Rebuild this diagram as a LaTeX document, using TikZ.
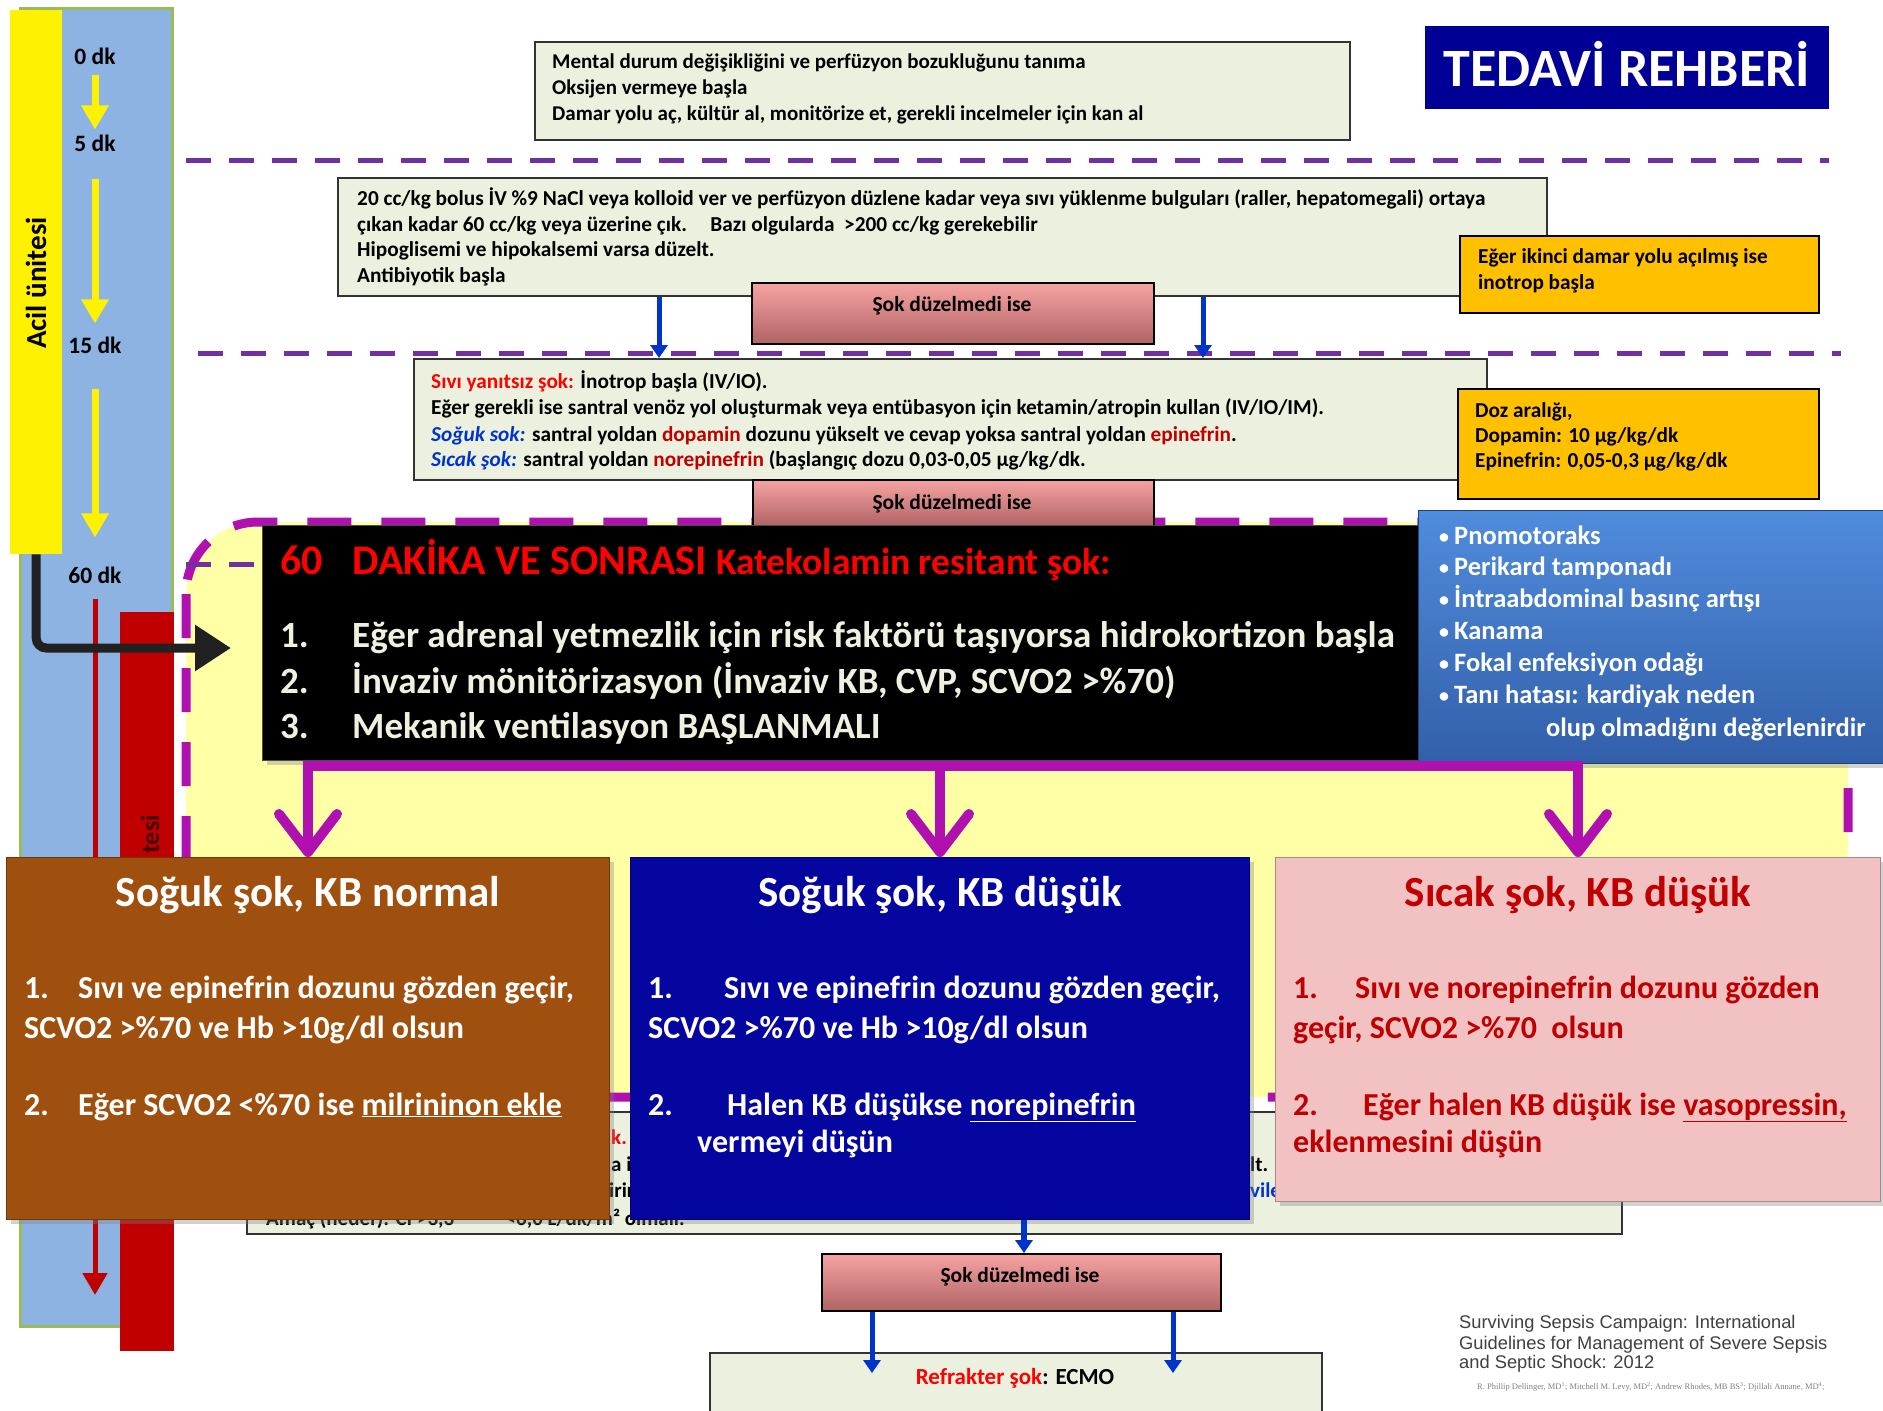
\documentclass[tikz,border=0pt]{standalone}
\usepackage{fontspec}
\setmainfont{Carlito}
\newfontfamily\citefont{Liberation Sans}
\newfontfamily\authfont{Liberation Serif}
\usetikzlibrary{arrows.meta,shadows,calc}
\newcommand{\fz}[1]{\fontsize{#1}{#1}\selectfont\bfseries}
\newcommand{\bul}{\makebox[15pt][l]{\raisebox{1pt}{\scalebox{0.75}{•}}}}
\definecolor{boxgreen}{RGB}{235,241,222}
\definecolor{purp}{RGB}{112,48,160}
\definecolor{mag}{RGB}{176,16,176}
\definecolor{lyel}{RGB}{255,255,166}
\definecolor{barblue}{RGB}{141,179,226}
\definecolor{olivec}{RGB}{155,187,89}
\definecolor{darkred}{RGB}{192,0,0}
\definecolor{gold}{RGB}{255,192,0}
\definecolor{navytd}{RGB}{0,0,150}
\definecolor{boxblue}{RGB}{5,5,160}
\definecolor{brownbox}{RGB}{160,80,14}
\definecolor{pinkbox}{RGB}{242,194,194}
\definecolor{arrblue}{RGB}{0,51,204}
\definecolor{pinktop}{RGB}{246,162,162}
\definecolor{pinkbot}{RGB}{176,100,100}
\definecolor{bultop}{RGB}{80,140,220}
\definecolor{bulbot}{RGB}{50,95,170}
\definecolor{cream}{RGB}{240,240,225}
\definecolor{redtxt}{RGB}{255,0,0}
\definecolor{citegray}{RGB}{64,64,64}
\begin{document}
\begin{tikzpicture}[x=1pt,y=-1pt,
  tx/.style={inner sep=0, anchor=base west},
  txc/.style={inner sep=0, anchor=base},
  gbox/.style={draw=black!80, line width=1.6, fill=boxgreen, inner sep=0, anchor=north west},
  ybox/.style={draw=black, line width=2, fill=gold, inner sep=0, anchor=north west},
  pbox/.style={draw=black, line width=2, top color=pinktop, bottom color=pinkbot, inner sep=0, anchor=north west},
  purpdash/.style={draw=purp, line width=5, dash pattern=on 25pt off 18pt},
  bluearr/.style={draw=arrblue, line width=5, -{Triangle[length=13pt,width=17pt]}},
  yarr/.style={draw=yellow, line width=7, -{Triangle[length=24pt,width=26pt]}},
  redarr/.style={draw=darkred, line width=5, -{Triangle[length=22pt,width=24pt]}},
  magarr/.style={draw=mag, line width=10, -{Straight Barb[length=38pt,width=58pt,round]}},
  magline/.style={draw=mag, line width=10, line cap=rect},
  bigbox/.style={inner sep=0, anchor=north west, drop shadow={shadow xshift=4pt, shadow yshift=-4pt, opacity=0.35}},
]
\useasboundingbox (0,0) rectangle (1883,1411);
\fill[white] (0,0) rectangle (1883,1411);

% left time bar
\node[draw=olivec, line width=2.5, fill=barblue, inner sep=0, anchor=north west, minimum width=152, minimum height=1318] (bbar) at (19,7) {};
\node[fill=yellow, inner sep=0, anchor=north west, minimum width=52, minimum height=544] (ybar) at (10,10) {};
\node[rotate=90, inner sep=0, font=\fz{29}] (acil) at (36,283) {Acil ünitesi};
\node[inner sep=0, font=\fz{23.5}] (l0) at (95,56) {0 dk};
\node[inner sep=0, font=\fz{23.5}] (l5) at (95,143) {5 dk};
\node[inner sep=0, font=\fz{23.5}] (l15) at (95,345) {15 dk};
\node[inner sep=0, font=\fz{23.5}] (l60) at (95,575) {60 dk};
\draw[yarr, shorten <=10pt, shorten >=5pt] (l0.south) -- (l5.north);
\draw[yarr, shorten <=27pt, shorten >=13pt] (l5.south) -- (l15.north);
\draw[yarr, shorten <=35pt, shorten >=29pt] (l15.south) -- (l60.north);
\node[fill=darkred, inner sep=0, anchor=north west, minimum width=54, minimum height=739] (rbar) at (120,612) {};
\coordinate (redend) at (95,1295);
\draw[redarr, shorten <=15pt] (l60.south) -- (redend);
\node[rotate=90, inner sep=0, anchor=east, font=\fz{26}, text={rgb,255:red,70;green,0;blue,0}] (tesi) at (150,815) {tesi};

% dashed time lines
\draw[purpdash] (186,160) -- (1829,160);
\draw[purpdash] (198,353) -- (1841,353);

% step 1
\node[gbox, minimum width=815, minimum height=98] (b1) at (534,41) {};
\node[tx, font=\fz{21}] (t1a) at (552,68) {Mental durum değişikliğini ve perfüzyon bozukluğunu tanıma};
\node[tx, font=\fz{21}] (t1b) at (552,94) {Oksijen vermeye başla};
\node[tx, font=\fz{21}] (t1c) at (552,120) {Damar yolu aç, kültür al, monitörize et, gerekli incelmeler için kan al};

\node[fill=navytd, inner sep=0, anchor=north west, minimum width=404, minimum height=83] (ted) at (1425,26) {};
\node[txc, font=\fz{54}, text=white] (tedt) at (1627,86) {TEDAVİ REHBERİ};

% step 2
\node[gbox, minimum width=1209, minimum height=118] (b2) at (337,177) {};
\node[tx, font=\fz{21.3}] (t2a) at (357,205) {20 cc/kg bolus İV \%9 NaCl veya kolloid ver ve perfüzyon düzlene kadar veya sıvı yüklenme bulguları (raller, hepatomegali) ortaya};
\node[tx, font=\fz{21.3}] (t2b) at (357,231) {çıkan kadar 60 cc/kg veya üzerine çık.\hspace{1.1em}Bazı olgularda~ >200 cc/kg gerekebilir};
\node[tx, font=\fz{21.3}] (t2c) at (357,256) {Hipoglisemi ve hipokalsemi varsa düzelt.};
\node[tx, font=\fz{21.3}] (t2d) at (357,282) {Antibiyotik başla};

\node[ybox, minimum width=359, minimum height=77] (ya) at (1459,235) {};
\node[tx, font=\fz{21.3}] (yat1) at (1478,263) {Eğer ikinci damar yolu açılmış ise};
\node[tx, font=\fz{21.3}] (yat2) at (1478,289) {inotrop başla};

\node[pbox, minimum width=402, minimum height=61] (p1) at (751,282) {};
\node[txc, font=\fz{21.5}] (p1t) at (952,311) {Şok düzelmedi ise};

% step 3
\node[gbox, minimum width=1073, minimum height=121] (b3) at (413,358) {};
\node[tx, font=\fz{21.3}] (t3a) at (431,388) {\textcolor{redtxt}{Sıvı yanıtsız şok:} İnotrop başla (IV/IO).};
\node[tx, font=\fz{21.3}] (t3b) at (431,414) {Eğer gerekli ise santral venöz yol oluşturmak veya entübasyon için ketamin/atropin kullan (IV/IO/IM).};
\node[tx, font=\fz{21.3}] (t3c) at (431,441) {\textcolor{arrblue}{\itshape Soğuk sok:} santral yoldan \textcolor{darkred}{dopamin} dozunu yükselt ve cevap yoksa santral yoldan \textcolor{darkred}{epinefrin}.};
\node[tx, font=\fz{21.3}] (t3d) at (431,466) {\textcolor{arrblue}{\itshape Sıcak şok:} santral yoldan \textcolor{darkred}{norepinefrin} (başlangıç dozu 0,03-0,05 µg/kg/dk.};
\draw[bluearr] (b2.south -| 659,0) -- (b3.north -| 659,0);
\draw[bluearr] (b2.south -| 1203,0) -- (b3.north -| 1203,0);

\node[ybox, minimum width=361, minimum height=110] (yb) at (1457,388) {};
\node[tx, font=\fz{21.3}] (ybt1) at (1475,417) {Doz aralığı,};
\node[tx, font=\fz{21.3}] (ybt2) at (1475,442) {Dopamin: 10 µg/kg/dk};
\node[tx, font=\fz{21.3}] (ybt3) at (1475,467) {Epinefrin: 0,05-0,3 µg/kg/dk};

% 60 min region
\draw[draw=mag, line width=9, dash pattern=on 44pt off 30pt, fill=lyel, rounded corners=72pt] (186,522) rectangle (1848,1097);
\draw[purpdash] (186,564) -- (262,564);
\coordinate (blkend) at (231,648);
\draw[draw=black!87, line width=9, rounded corners=10pt, -{Triangle[length=36pt,width=44pt]}] (ybar.south) |- (blkend);
\node[pbox, minimum width=401, minimum height=46] (p2) at (752,479) {};
\node[txc, font=\fz{21.5}] (p2t) at (952,509) {Şok düzelmedi ise};

\node[bigbox, fill=black, draw=black!70, line width=1, minimum width=1161, minimum height=235] (blk) at (262,525) {};
\node[tx, text=redtxt] (blkt) at (280,574) {\fz{42}60\hspace{30pt}DAKİKA VE SONRASI \fz{37.5}Katekolamin resitant şok:};
\node[tx, font=\fz{37}, text=cream] (i1n) at (280,647) {1.};
\node[tx, font=\fz{37}, text=cream] (i1) at (352,647) {Eğer adrenal yetmezlik için risk faktörü taşıyorsa hidrokortizon başla};
\node[tx, font=\fz{37}, text=cream] (i2n) at (280,693) {2.};
\node[tx, font=\fz{37}, text=cream] (i2) at (352,693) {İnvaziv mönitörizasyon (İnvaziv KB, CVP, SCVO2 >\%70)};
\node[tx, font=\fz{37}, text=cream] (i3n) at (280,738) {3.};
\node[tx, font=\fz{37}, text=cream] (i3) at (352,738) {Mekanik ventilasyon BAŞLANMALI};

\node[bigbox, top color=bultop, bottom color=bulbot, draw=bulbot!70!black, line width=1, minimum width=465, minimum height=253] (bul) at (1418,510) {};
\node[tx, font=\fz{26.5}, text=white] (bu1) at (1439,544) {\bul Pnomotoraks};
\node[tx, font=\fz{26.5}, text=white] (bu2) at (1439,575) {\bul Perikard tamponadı};
\node[tx, font=\fz{26.5}, text=white] (bu3) at (1439,607) {\bul İntraabdominal basınç artışı};
\node[tx, font=\fz{26.5}, text=white] (bu4) at (1439,639) {\bul Kanama};
\node[tx, font=\fz{26.5}, text=white] (bu5) at (1439,671) {\bul Fokal enfeksiyon odağı};
\node[tx, font=\fz{26.5}, text=white] (bu6) at (1439,703) {\bul Tanı hatası: kardiyak neden};
\node[tx, font=\fz{26.5}, text=white] (bu7) at (1546,736) {olup olmadığını değerlenirdir};

% hidden box behind the three boxes
\node[gbox, minimum width=1375, minimum height=122] (b4) at (246,1111) {};
\node[tx, font=\fz{21}, text=redtxt] (f1) at (611,1144) {k.};
\node[tx, font=\fz{21}] (f2) at (611,1171) {a i};
\node[tx, font=\fz{21}] (f3) at (609,1197) {irir};
\node[tx, font=\fz{21}] (f4) at (1250,1171) {lt.};
\node[tx, font=\fz{21}, text=arrblue] (f5) at (1250,1197) {vile};
\node[tx, font=\fz{21}] (f6) at (266,1225) {Amaç (hedef): CI >3,3 \hspace{2em} <6,0 L/dk/m² olmalı.};

% three outcome boxes
\node[bigbox, fill=brownbox, draw=brownbox!70!black, line width=1, minimum width=603, minimum height=362] (brn) at (6,857) {};
\node[txc, font=\fz{43}, text=white] (brnt) at (brn.north |- 0,906) {Soğuk şok, KB normal};
\node[tx, font=\fz{32}, text=white] (brn1n) at (24,998) {1.};
\node[tx, font=\fz{32}, text=white] (brn1) at (78,998) {Sıvı ve epinefrin dozunu gözden geçir,};
\node[tx, font=\fz{32}, text=white] (brn1b) at (24,1038) {SCVO2 >\%70 ve Hb >10g/dl olsun};
\node[tx, font=\fz{32}, text=white] (brn2n) at (24,1115) {2.};
\node[tx, font=\fz{32}, text=white] (brn2) at (78,1115) {Eğer SCVO2 <\%70 ise \underline{milrininon ekle}};

\node[bigbox, fill=boxblue, draw=boxblue!70!black, line width=1, minimum width=619, minimum height=362] (blu) at (630,857) {};
\node[txc, font=\fz{43}, text=white] (blut) at (blu.north |- 0,906) {Soğuk şok, KB düşük};
\node[tx, font=\fz{32}, text=white] (blu1n) at (648,998) {1.};
\node[tx, font=\fz{32}, text=white] (blu1) at (724,998) {Sıvı ve epinefrin dozunu gözden geçir,};
\node[tx, font=\fz{32}, text=white] (blu1b) at (648,1038) {SCVO2 >\%70 ve Hb >10g/dl olsun};
\node[tx, font=\fz{32}, text=white] (blu2n) at (648,1115) {2.};
\node[tx, font=\fz{32}, text=white] (blu2) at (727,1115) {Halen KB düşükse \underline{norepinefrin}};
\node[tx, font=\fz{32}, text=white] (blu2b) at (697,1152) {vermeyi düşün};

\node[bigbox, fill=pinkbox, draw=pinkbox!70!black, line width=1, minimum width=605, minimum height=344] (pnk) at (1275,857) {};
\node[txc, font=\fz{43}, text=darkred] (pnkt) at (pnk.north |- 0,906) {Sıcak şok, KB düşük};
\node[tx, font=\fz{32}, text=darkred] (pnk1n) at (1293,998) {1.};
\node[tx, font=\fz{32}, text=darkred] (pnk1) at (1355,998) {Sıvı ve norepinefrin dozunu gözden};
\node[tx, font=\fz{32}, text=darkred] (pnk1b) at (1293,1038) {geçir, SCVO2 >\%70~ olsun};
\node[tx, font=\fz{32}, text=darkred] (pnk2n) at (1293,1115) {2.};
\node[tx, font=\fz{32}, text=darkred] (pnk2) at (1363,1115) {Eğer halen KB düşük ise \underline{vasopressin,}};
\node[tx, font=\fz{32}, text=darkred] (pnk2b) at (1293,1152) {eklenmesini düşün};

% magenta connectors
\coordinate (mjL) at ($(blk.south -| brn.north)+(0,5)$);
\coordinate (mjR) at ($(blk.south -| pnk.north)+(0,5)$);
\draw[magline] (mjL) -- (mjR);
\draw[magarr] (mjL) -- (brn.north);
\draw[magarr] (blk.south -| blu.north) -- (blu.north);
\draw[magarr] (mjR) -- (pnk.north);

% last step
\node[pbox, minimum width=399, minimum height=57] (p3) at (821,1253) {};
\node[txc, font=\fz{21.5}] (p3t) at (1020,1282) {Şok düzelmedi ise};
\draw[bluearr, line width=6] (blu.south -| 1024,0) -- (p3.north -| 1024,0);
\node[gbox, minimum width=612, minimum height=80] (ecmo) at (709,1352) {};
\node[txc, font=\fz{23}] (ecmot) at (1015,1384) {\textcolor{redtxt}{Refrakter şok}: ECMO};
\draw[bluearr] (p3.south -| 872,0) -- ($(ecmo.north -| 872,0)+(0,21)$);
\draw[bluearr] (p3.south -| 1173,0) -- ($(ecmo.north -| 1173,0)+(0,21)$);

% citation
\node[tx, font=\citefont\fontsize{18.3}{18.3}\selectfont, text=citegray] (c1) at (1459,1328) {Surviving Sepsis Campaign: International};
\node[tx, font=\citefont\fontsize{18.3}{18.3}\selectfont, text=citegray] (c2) at (1459,1349) {Guidelines for Management of Severe Sepsis};
\node[tx, font=\citefont\fontsize{18.3}{18.3}\selectfont, text=citegray] (c3) at (1459,1368) {and Septic Shock: 2012};
\node[tx, font=\authfont\fontsize{8.5}{8.5}\selectfont, text=black!50] (c4) at (1477,1389) {R. Phillip Dellinger, MD\textsuperscript{1}; Mitchell M. Levy, MD\textsuperscript{2}; Andrew Rhodes, MB BS\textsuperscript{3}; Djillali Annane, MD\textsuperscript{4};};
\end{tikzpicture}
\end{document}
